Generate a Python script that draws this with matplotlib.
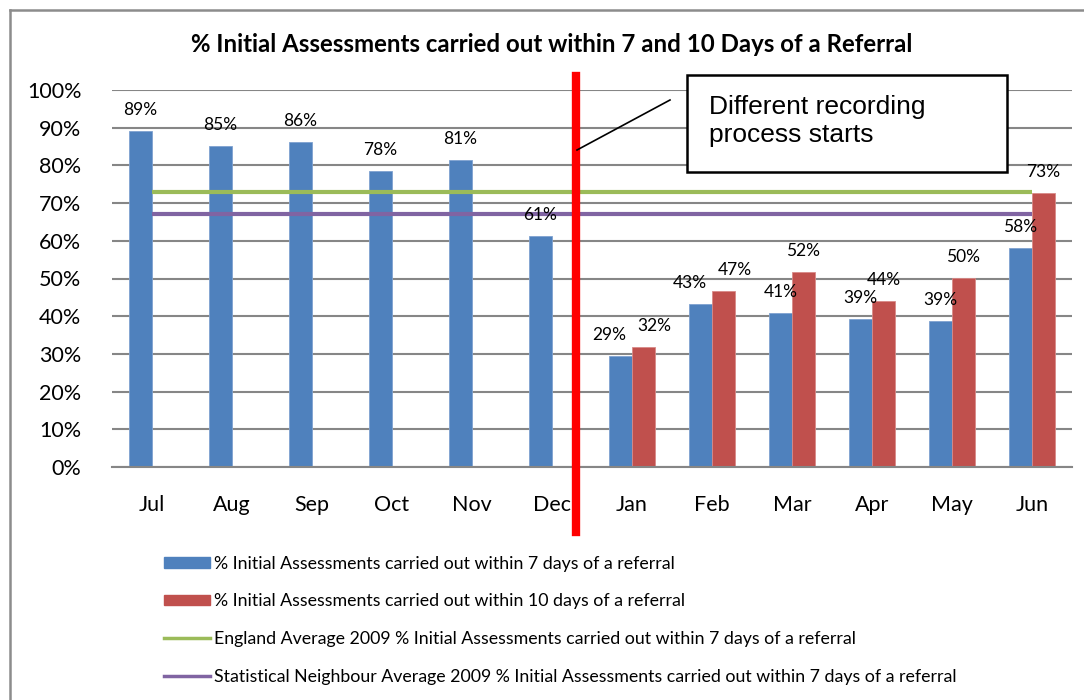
import matplotlib
matplotlib.use("Agg")
import matplotlib.pyplot as plt
from matplotlib.patches import Patch, Rectangle
from matplotlib.lines import Line2D
import numpy as np

plt.rcParams['font.family'] = ['Lato', 'DejaVu Sans']

months = ["Jul", "Aug", "Sep", "Oct", "Nov", "Dec", "Jan", "Feb", "Mar", "Apr", "May", "Jun"]
within7 = [0.891, 0.851, 0.862, 0.784, 0.813, 0.612, 0.294, 0.433, 0.408, 0.393, 0.387, 0.581]
within10 = [None, None, None, None, None, None, 0.317, 0.468, 0.517, 0.439, 0.501, 0.727]
england_avg = 0.73
neighbour_avg = 0.67
yticks = [0.0, 0.1, 0.2, 0.3, 0.4, 0.5, 0.6, 0.7, 0.8, 0.9, 1.0]
ytick_labels = ["0%", "10%", "20%", "30%", "40%", "50%", "60%", "70%", "80%", "90%", "100%"]

labels = [
    "% Initial Assessments carried out within 7 days of a referral",
    "% Initial Assessments carried out within 10 days of a referral",
    "England Average 2009 % Initial Assessments carried out within 7 days of a referral",
    "Statistical Neighbour Average 2009 % Initial Assessments carried out within 7 days of a referral",
]
title = "% Initial Assessments carried out within 7 and 10 Days of a Referral"
note = "Different recording\nprocess starts"

BLUE = "#4F81BD"
RED = "#C0504D"
GREEN = "#9BBB59"
PURPLE = "#8064A2"
GRID = "#868686"

W, H = 1084, 700
fig = plt.figure(figsize=(W / 100, H / 100), dpi=100)
ax = fig.add_axes([112 / W, (H - 467) / H, (1072 - 112) / W, (467 - 90) / H])

x = np.arange(len(months))
bw = 0.2875
ax.bar(x - bw / 2, within7, width=bw, color=BLUE, zorder=3, edgecolor="#7FA2D0", linewidth=0.6)
xr = [i for i, v in enumerate(within10) if v is not None]
vr = [v for v in within10 if v is not None]
ax.bar(np.array(xr) + bw / 2, vr, width=bw, color=RED, zorder=3, edgecolor="#D88A88", linewidth=0.6)

# data labels; push apart the pairs whose labels would collide
for i, v in enumerate(within7):
    other = within10[i]
    dx = -11 if (other is not None and abs(other - v) < 0.04) else 0
    ax.annotate(f"{v*100:.0f}%", (i - bw / 2, v), xytext=(dx, 21), textcoords="offset pixels",
                ha="center", va="center", fontsize=12.5, zorder=6)
for i, v in zip(xr, vr):
    dx = 11 if abs(within7[i] - v) < 0.04 else 0
    ax.annotate(f"{v*100:.0f}%", (i + bw / 2, v), xytext=(dx, 21), textcoords="offset pixels",
                ha="center", va="center", fontsize=12.5, zorder=6)

ax.plot([x[0], x[-1]], [england_avg, england_avg], color=GREEN, lw=3, zorder=4, solid_capstyle="butt")
ax.plot([x[0], x[-1]], [neighbour_avg, neighbour_avg], color=PURPLE, lw=3, zorder=4, solid_capstyle="butt")

ax.set_xlim(-0.5, len(months) - 0.5)
ax.set_ylim(0, 1.0)
ax.set_yticks(yticks)
ax.set_yticklabels(ytick_labels, fontsize=15.5)
ax.set_xticks(x)
ax.set_xticklabels(months, fontsize=15.5)
ax.tick_params(axis="both", length=0)
ax.tick_params(axis="x", pad=20)
ax.tick_params(axis="y", pad=22)
ax.grid(axis="y", color=GRID, lw=1.5, zorder=0)
ax.set_axisbelow(True)
for s in ["top", "right", "left"]:
    ax.spines[s].set_visible(False)
ax.spines["bottom"].set_color(GRID)
ax.spines["bottom"].set_linewidth(1.5)
ax.spines["bottom"].set_zorder(5)

def fx(px):
    return px / W
def fy(py):
    return 1 - py / H

# red vertical divider
fig.add_artist(Line2D([fx(576), fx(576)], [fy(76), fy(532)], color="#FF0000", lw=6, zorder=10))

# annotation box and connector
fig.add_artist(Line2D([fx(670), fx(577)], [fy(100), fy(150)], color="black", lw=1.2, zorder=10))
fig.add_artist(Rectangle((fx(687), fy(172)), fx(1007) - fx(687), fy(75) - fy(172),
                         facecolor="white", edgecolor="black", lw=1.8, zorder=11))
fig.text(fx(709), fy(121), note, fontsize=19, family=["Liberation Sans"], ha="left", va="center",
         linespacing=1.2, zorder=12)

# title
fig.text(fx(552), fy(45), title, fontsize=17.3, fontweight="bold", ha="center", va="center")

# outer border
fig.add_artist(Line2D([fx(9.5), fx(9.5)], [fy(9.5), 0], color="#8C8C8C", lw=1.8))
fig.add_artist(Line2D([fx(9.5), 1], [fy(9.5), fy(9.5)], color="#8C8C8C", lw=1.8))

handles = [
    Patch(facecolor=BLUE, edgecolor=BLUE),
    Patch(facecolor=RED, edgecolor=RED),
    Line2D([0], [0], color=GREEN, lw=2.5),
    Line2D([0], [0], color=PURPLE, lw=2.5),
]
leg = fig.legend(handles, labels, loc="upper left", bbox_to_anchor=(fx(160), fy(552)),
                 frameon=False, fontsize=12.8, handlelength=2.6, handleheight=0.55,
                 handletextpad=0.22, labelspacing=1.22, borderaxespad=0, borderpad=0.2)

fig.savefig("out.png", dpi=100)
